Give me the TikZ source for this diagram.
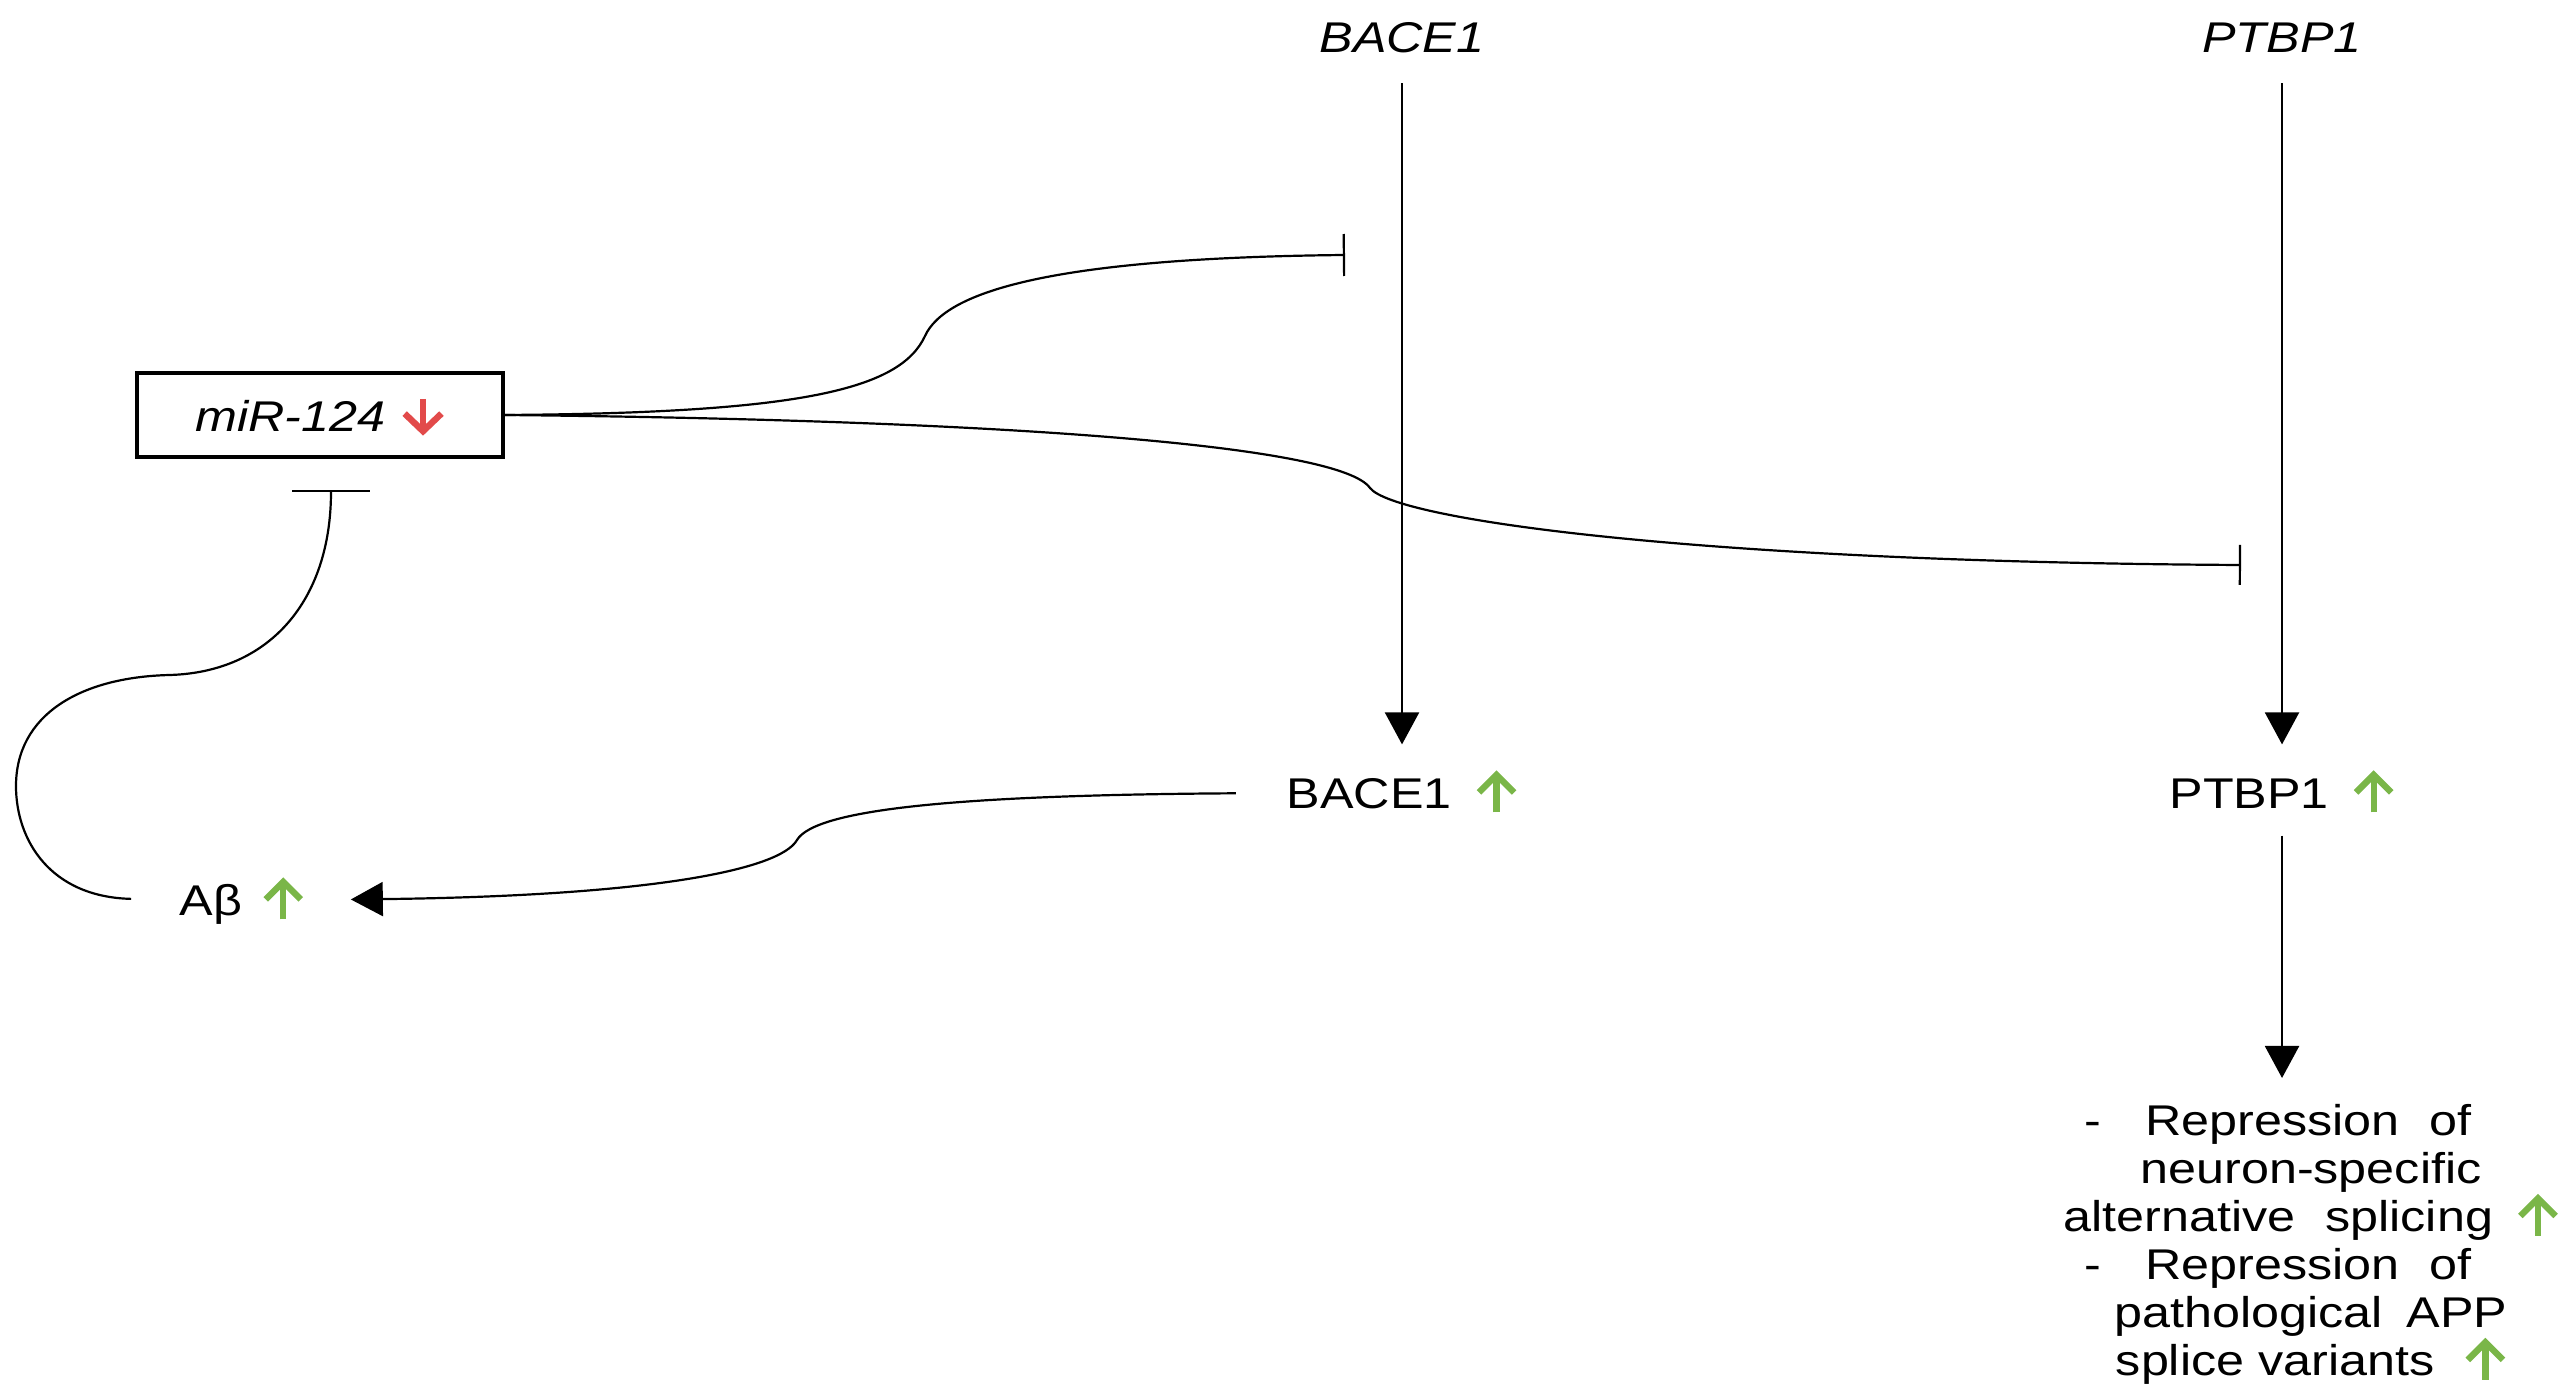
\documentclass[tikz,border=0pt]{standalone}
\usepackage{fontspec}
\setmainfont[FakeStretch=1.17]{Liberation Sans}
\usetikzlibrary{arrows.meta}
\definecolor{upgreen}{RGB}{122,182,72}
\definecolor{downred}{RGB}{226,74,74}
\newcommand{\upmark}{\tikz[baseline=0pt]{\draw[upgreen, line width=1.6pt] (0pt,-1pt) -- (0pt,8.6pt); \draw[upgreen, line width=1.6pt] (-4.4pt,4pt) -- (0pt,8.4pt) -- (4.4pt,4pt);}}
\newcommand{\downmark}{\tikz[baseline=0pt]{\draw[downred, line width=1.6pt] (0pt,8.3pt) -- (0pt,0.4pt); \draw[downred, line width=1.6pt] (-4.6pt,4.6pt) -- (0pt,0.2pt) -- (4.6pt,4.6pt);}}
\begin{document}
\begin{tikzpicture}[x=0.25pt, y=-0.25pt, line width=0.55pt,
  font=\fontsize{10.75}{12}\selectfont,
  lbl/.style={inner sep=0pt, text height=7.7pt, text depth=0pt},
  gene/.style={lbl, font=\fontsize{10.75}{12}\selectfont\itshape},
  box/.style={draw, line width=0.8pt, minimum width=91.5pt, minimum height=21pt, inner sep=0pt},
  act/.style={-{Triangle[length=8pt,width=8.5pt]}},
  inh/.style={-{Bar[width=#1]}}, inh/.default=10.5pt]
  \useasboundingbox (0,0) rectangle (2568,1398);

  \node[gene] (gbace) at (1402,37) {BACE1};
  \node[gene] (gptbp) at (2282,37) {PTBP1};

  \node[box] (mir) at (320,415) {\textit{miR-124}\hspace{4pt}\downmark};

  \node[lbl] (pbace) at (1402,793) {BACE1\hspace{6pt}\upmark};
  \node[lbl] (pptbp) at (2282,793) {PTBP1\hspace{6pt}\upmark};
  \node[lbl] (abeta) at (242,900) {Aβ\hspace{5pt}\upmark};

  \node[anchor=north, align=center, inner sep=0pt] (effects) at (2311,1104)
    {-\hspace{11pt}Repression\hspace{7.5pt}of\rule{16.5pt}{0pt}\\
     neuron-specific\\
     alternative\hspace{7.5pt}splicing\hspace{6pt}\upmark\\
     -\hspace{11pt}Repression\hspace{7.5pt}of\rule{16.5pt}{0pt}\\
     pathological\hspace{6pt}APP\\
     splice variants\hspace{7.5pt}\upmark};

  \coordinate (bacebar) at (1345,255);
  \coordinate (ptbpbar) at (2241,565);
  \coordinate (mirbar) at (331,490);

  \draw[act, shorten <=7.4pt, shorten >=8.1pt] (gbace) -- (pbace);
  \draw[act, shorten <=7.4pt, shorten >=8.1pt] (gptbp) -- (pptbp);
  \draw[act, shorten <=6.6pt, shorten >=6.5pt] (pptbp) -- (pptbp.south |- effects.north);

  \draw[inh] (mir.east) .. controls (800,413) and (900,390) .. (925,336)
    .. controls (945,292) and (1050,258) .. (bacebar);
  \draw[inh=10pt] (mir.east) .. controls (1000,420) and (1340,445) .. (1370,488)
    .. controls (1395,520) and (1700,562) .. (ptbpbar);
  \draw[inh=19.5pt, shorten <=12pt] (abeta.west) .. controls (50,897) and (16,840) .. (16,786)
    .. controls (16,715) and (80,677) .. (170,675)
    .. controls (270,672) and (331,600) .. (mirbar);
  \draw[act, shorten <=12.5pt, shorten >=11.5pt] (pbace.west) .. controls (950,795) and (815,810) .. (797,840)
    .. controls (780,870) and (650,896) .. (abeta.east);
\end{tikzpicture}
\end{document}
